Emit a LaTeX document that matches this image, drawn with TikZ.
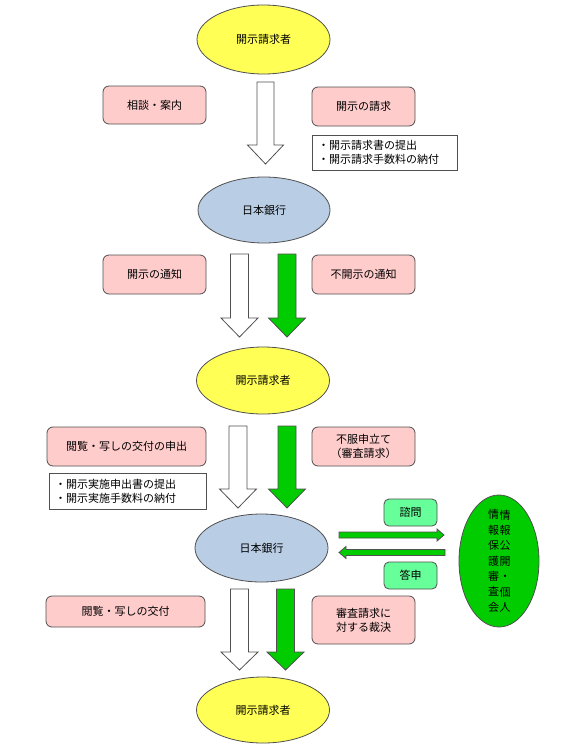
\documentclass[tikz,border=0pt]{standalone}
\usepackage{fontspec}
\setmainfont{Noto Sans CJK JP}
\usetikzlibrary{shapes.geometric}
\definecolor{ylw}{RGB}{255,255,85}
\definecolor{blu}{RGB}{185,205,229}
\definecolor{pnk}{RGB}{255,204,204}
\definecolor{grn}{RGB}{0,204,0}
\definecolor{mint}{RGB}{102,255,153}
\definecolor{edgec}{RGB}{80,80,80}
\tikzset{
 txt/.style={font=\fontsize{11}{14}\selectfont, text=black, inner sep=0pt, align=center},
 oval/.style={ellipse, draw=edgec, line width=0.8pt, txt},
 reqoval/.style={oval, fill=ylw},
 bankoval/.style={oval, fill=blu},
 pinkbox/.style={rectangle, rounded corners=6pt, draw=edgec, line width=0.8pt, fill=pnk, txt},
 mintbox/.style={rectangle, rounded corners=5pt, draw=edgec, line width=0.8pt, fill=mint, txt},
 notebox/.style={rectangle, draw=edgec, line width=0.8pt, fill=white, txt, align=left, inner xsep=6pt},
 hollowarrow/.style={draw=edgec, line width=0.8pt, fill=white, line join=miter},
 greenarrow/.style={draw=edgec, line width=0.8pt, fill=grn, line join=miter},
 council/.style={ellipse, draw=edgec, line width=0.8pt, fill=grn},
 vcol/.style={txt, font=\fontsize{11}{15.4}\selectfont},
}
% style, cx, top, headstart, tip, shafthalf, headhalf
\newcommand\vblock[7]{%
 \draw[#1] (#2-#6,#3) -- (#2+#6,#3) -- (#2+#6,#4) -- (#2+#7,#4) -- (#2,#5) -- (#2-#7,#4) -- (#2-#6,#4) -- cycle;}
% style, cy, tail x, headstart x, tip x, shafthalf, headhalf
\newcommand\hblock[7]{%
 \draw[#1] (#3,#2-#6) -- (#4,#2-#6) -- (#4,#2-#7) -- (#5,#2) -- (#4,#2+#7) -- (#4,#2+#6) -- (#3,#2+#6) -- cycle;}
\begin{document}
\begin{tikzpicture}[x=1pt,y=-1pt]
\useasboundingbox[fill=white] (0,0) rectangle (564,750);

% ellipses
\node[reqoval, minimum width=133pt, minimum height=69pt] (req1) at (263.5,39.5) {開示請求者};
\node[bankoval, minimum width=132pt, minimum height=66pt] (bank1) at (264,210) {日本銀行};
\node[reqoval, minimum width=133pt, minimum height=67pt] (req2) at (263,380.5) {開示請求者};
\node[bankoval, minimum width=133pt, minimum height=68pt] (bank2) at (261.5,548) {日本銀行};
\node[reqoval, minimum width=133pt, minimum height=66pt] (req3) at (263,710) {開示請求者};

% block arrows
\vblock{hollowarrow}{265.5}{82}{145}{164}{8.5}{18}
\vblock{hollowarrow}{239.5}{254}{318}{337}{9}{18.5}
\vblock{greenarrow}{287}{254}{318}{337}{9}{18.5}
\vblock{hollowarrow}{238}{426}{489}{508}{9}{18.5}
\vblock{greenarrow}{287}{426}{489}{508}{9}{18.5}
\vblock{hollowarrow}{239.5}{589}{652}{670}{9}{18.5}
\vblock{greenarrow}{285.5}{589}{652}{670}{9}{18.5}

% pink boxes
\node[pinkbox, minimum width=103pt, minimum height=38pt] (soudan) at (154.5,105) {相談・案内};
\node[pinkbox, minimum width=103pt, minimum height=39pt] (seikyu) at (363.5,106.5) {開示の請求};
\node[pinkbox, minimum width=103pt, minimum height=39pt] (tsuchi) at (154.5,274.5) {開示の通知};
\node[pinkbox, minimum width=103pt, minimum height=39pt] (futsuchi) at (363.5,274.5) {不開示の通知};
\node[pinkbox, minimum width=159pt, minimum height=39pt] (moushide) at (126.5,446.5) {閲覧・写しの交付の申出};
\node[pinkbox, minimum width=103pt, minimum height=39pt] (fufuku) at (363.5,446.5) {不服申立て\\（審査請求）};
\node[pinkbox, minimum width=159pt, minimum height=31pt] (koufu) at (125.5,611.5) {閲覧・写しの交付};
\node[pinkbox, minimum width=103pt, minimum height=48pt] (saiketsu) at (363.5,620) {審査請求に\\対する裁決};

% note boxes
\node[notebox, minimum width=145pt, minimum height=35pt, text width=133pt] (note1) at (384.5,152.5) {・開示請求書の提出\\・開示請求手数料の納付};
\node[notebox, minimum width=157pt, minimum height=36pt, text width=145pt] (note2) at (127.5,491) {・開示実施申出書の提出\\・開示実施手数料の納付};

% council
\node[council, minimum width=80pt, minimum height=132pt] (council) at (499,561) {};
\node[vcol] (colL) at (493.5,561) {情\\報\\保\\護\\審\\査\\会};
\node[vcol] (colR) at (505,561) {情\\報\\公\\開\\・\\個\\人};

% consultation arrows
\hblock{greenarrow}{535}{339}{437}{444}{3}{6}
\hblock{greenarrow}{552.5}{445}{346}{339}{3}{6}
\node[mintbox, minimum width=53pt, minimum height=27pt] (shimon) at (410.5,512.5) {諮問};
\node[mintbox, minimum width=53pt, minimum height=27pt] (toushin) at (410.5,575.5) {答申};
\end{tikzpicture}
\end{document}
